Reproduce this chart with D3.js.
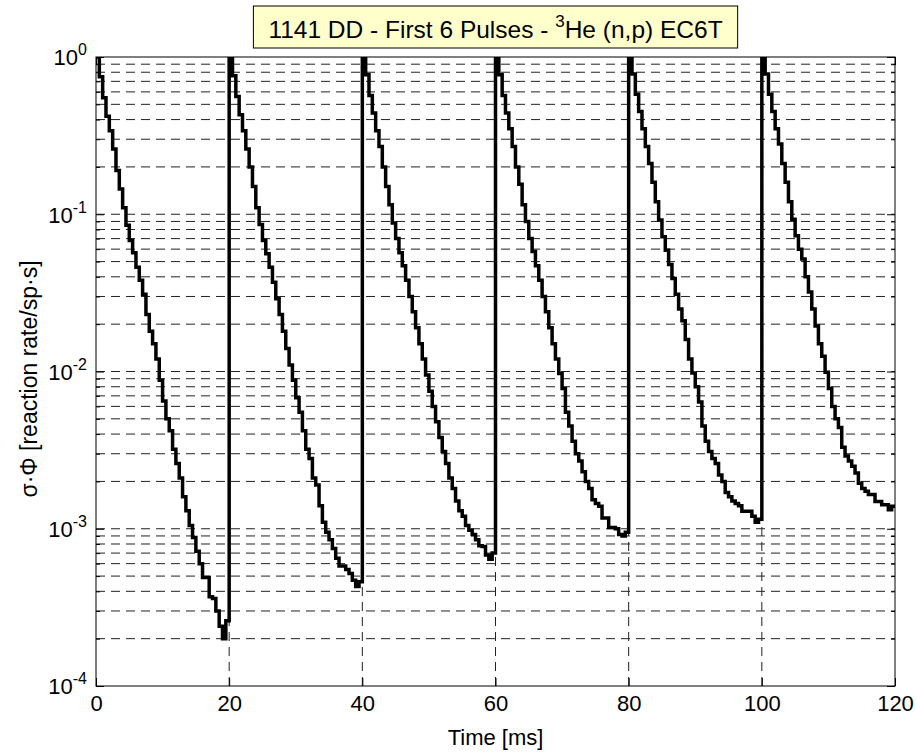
<!DOCTYPE html>
<html>
<head>
<meta charset="utf-8">
<script src="https://cdn.jsdelivr.net/npm/d3@7"></script>
<style>
body { margin: 0; background: #fff; }
svg { display: block; font-family: "Liberation Sans", Arial, sans-serif; }
</style>
</head>
<body>
<div id="chart"></div>
<script>
'use strict';

// pulse start times [ms] and the sampling step of each pulse record
var pulseStarts = [0, 20, 40, 60, 80, 100],
    sampleMs = 0.5,
    endMs = 120;

// sigma*Phi, one value every 0.5 ms after each pulse
var pulse1 = [1.0, 0.75, 0.55, 0.42, 0.34, 0.26, 0.19, 0.145, 0.11, 0.085,
              0.068, 0.057, 0.046, 0.038, 0.031, 0.023, 0.018, 0.015, 0.012, 0.0088,
              0.0065, 0.0050, 0.0042, 0.0032, 0.0026, 0.0021, 0.0016, 0.0013, 0.00105, 0.00088,
              0.00072, 0.00060, 0.00049, 0.00049, 0.00037, 0.00036, 0.00030, 0.00024, 0.00020, 0.00026];
var pulse2 = [1.0, 0.76, 0.56, 0.43, 0.34, 0.26, 0.20, 0.15, 0.11, 0.086,
              0.068, 0.056, 0.046, 0.037, 0.029, 0.023, 0.018, 0.014, 0.011, 0.0088,
              0.0068, 0.0055, 0.0042, 0.0032, 0.0028, 0.0021, 0.0019, 0.0014, 0.0011, 0.00095,
              0.00085, 0.00075, 0.00065, 0.00058, 0.00058, 0.00055, 0.00052, 0.00047, 0.00043, 0.00046];
var pulse3 = [1.0, 0.77, 0.57, 0.44, 0.34, 0.27, 0.20, 0.15, 0.115, 0.088,
              0.070, 0.057, 0.047, 0.038, 0.030, 0.024, 0.019, 0.015, 0.012, 0.0095,
              0.0075, 0.0060, 0.0048, 0.0038, 0.0031, 0.0026, 0.0021, 0.0018, 0.0015, 0.0013,
              0.0012, 0.00105, 0.00098, 0.00092, 0.00085, 0.00078, 0.00077, 0.00068, 0.00064, 0.00070];
var pulse4 = [1.0, 0.77, 0.57, 0.44, 0.35, 0.27, 0.20, 0.155, 0.115, 0.090,
              0.070, 0.058, 0.047, 0.038, 0.030, 0.024, 0.019, 0.015, 0.012, 0.0097,
              0.0078, 0.0055, 0.0045, 0.0036, 0.0030, 0.0027, 0.0023, 0.0020, 0.0018, 0.00153,
              0.00145, 0.00139, 0.00117, 0.00117, 0.00102, 0.00102, 0.00100, 0.00092, 0.00090, 0.00095];
var pulse5 = [1.0, 0.78, 0.58, 0.45, 0.35, 0.27, 0.21, 0.16, 0.12, 0.092,
              0.072, 0.059, 0.048, 0.039, 0.031, 0.025, 0.021, 0.016, 0.012, 0.0098,
              0.0080, 0.0064, 0.0045, 0.0036, 0.0031, 0.0028, 0.0026, 0.0022, 0.0020, 0.0017,
              0.0016, 0.0015, 0.00145, 0.0014, 0.00129, 0.00129, 0.00129, 0.0012, 0.0011, 0.00115];
var pulse6 = [1.0, 0.78, 0.58, 0.45, 0.35, 0.28, 0.21, 0.16, 0.12, 0.093,
              0.073, 0.060, 0.052, 0.040, 0.032, 0.025, 0.0195, 0.015, 0.0125, 0.0099,
              0.0078, 0.0060, 0.0050, 0.0044, 0.0033, 0.0029, 0.0027, 0.0025, 0.00226, 0.00195,
              0.0018, 0.00173, 0.00165, 0.00165, 0.00149, 0.00149, 0.00142, 0.00142, 0.00132, 0.00139];
var pulses = [pulse1, pulse2, pulse3, pulse4, pulse5, pulse6];

var xTicks = [0, 20, 40, 60, 80, 100, 120],
    yDecades = [1e-4, 1e-3, 1e-2, 1e-1, 1],
    yExponents = ['-4', '-3', '-2', '-1', '0'],
    minorMultipliers = [2, 3, 4, 5, 6, 7, 8, 9];

var titleStart = '1141 DD - First 6 Pulses - ',
    titleSup = '3',
    titleEnd = 'He (n,p) EC6T',
    xLabel = 'Time [ms]',
    yLabel = 'σ·Φ [reaction rate/sp·s]';

var width = 917,
    height = 753,
    plotLeft = 96,
    plotRight = 895,
    plotTop = 57,
    plotBottom = 686;

var svg = d3.select('#chart').append('svg').attr('width', width).attr('height', height);

var x = d3.scaleLinear().domain([0, endMs]).range([plotLeft, plotRight]),
    y = d3.scaleLog().domain([1e-4, 1]).range([plotBottom, plotTop]);

// minor values of the log axis
var yMinor = [];
yDecades.slice(0, -1).forEach(function (d) {
    minorMultipliers.forEach(function (m) {
        yMinor.push(m * d);
    });
});

// grid
var grid = svg.append('g').attr('fill', 'none').attr('stroke', '#222').attr('stroke-width', 1).attr('stroke-dasharray', '9,6');
grid.selectAll('.hgrid').data(yMinor.concat(yDecades.slice(1, -1))).enter().append('line').attr('class', 'hgrid')
    .attr('x1', plotLeft).attr('x2', plotRight)
    .attr('y1', function (d) { return y(d); })
    .attr('y2', function (d) { return y(d); });
grid.selectAll('.vgrid').data(xTicks.slice(1, -1)).enter().append('line').attr('class', 'vgrid')
    .attr('y1', plotBottom).attr('y2', plotTop)
    .attr('x1', function (d) { return x(d); })
    .attr('x2', function (d) { return x(d); });

// data points
var points = [];
pulses.forEach(function (p, k) {
    p.forEach(function (v, i) {
        points.push([pulseStarts[k] + i * sampleMs, v]);
    });
});
points.push([endMs, pulse6[pulse6.length - 1]]);

svg.append('clipPath').attr('id', 'plotClip').append('rect')
    .attr('x', plotLeft).attr('y', plotTop).attr('width', plotRight - plotLeft).attr('height', plotBottom - plotTop);

var line = d3.line().curve(d3.curveStepAfter)
    .x(function (d) { return x(d[0]); })
    .y(function (d) { return y(d[1]); });

svg.append('path').datum(points).attr('clip-path', 'url(#plotClip)')
    .attr('fill', 'none').attr('stroke', '#000').attr('stroke-width', 3.5).attr('stroke-linejoin', 'miter')
    .attr('d', line);

// axes
var axisFont = 22;

var xAxis = svg.append('g').attr('transform', 'translate(0,' + plotBottom + ')')
    .call(d3.axisBottom(x).tickValues(xTicks).tickSizeInner(-8).tickSizeOuter(0).tickPadding(9));
xAxis.selectAll('text').attr('font-size', axisFont).attr('font-family', null).attr('fill', '#000');

svg.append('g').attr('transform', 'translate(0,' + plotTop + ')')
    .call(d3.axisTop(x).tickValues(xTicks).tickSizeInner(-8).tickSizeOuter(0).tickFormat(''));

var yAxis = svg.append('g').attr('transform', 'translate(' + plotLeft + ',0)')
    .call(d3.axisLeft(y).tickValues(yDecades).tickSizeInner(-8).tickSizeOuter(0).tickPadding(9).tickFormat(''));
yAxis.selectAll('.tick text').each(function (d, i) {
    var t = d3.select(this).attr('font-size', axisFont).attr('font-family', null).attr('fill', '#000').attr('dy', '0.36em');
    t.append('tspan').text('10');
    t.append('tspan').attr('font-size', 16).attr('dy', -10).text(yExponents[i]);
});

svg.append('g').attr('transform', 'translate(' + plotLeft + ',0)')
    .call(d3.axisLeft(y).tickValues(yMinor).tickSizeInner(-4).tickSizeOuter(0).tickFormat(''));
svg.append('g').attr('transform', 'translate(' + plotRight + ',0)')
    .call(d3.axisRight(y).tickValues(yDecades).tickSizeInner(-8).tickSizeOuter(0).tickFormat(''));
svg.append('g').attr('transform', 'translate(' + plotRight + ',0)')
    .call(d3.axisRight(y).tickValues(yMinor).tickSizeInner(-4).tickSizeOuter(0).tickFormat(''));

svg.selectAll('.domain').remove();
svg.append('rect').attr('x', plotLeft).attr('y', plotTop).attr('width', plotRight - plotLeft).attr('height', plotBottom - plotTop)
    .attr('fill', 'none').attr('stroke', '#000').attr('stroke-width', 1);

// labels
svg.append('text').attr('x', (plotLeft + plotRight) / 2).attr('y', 745).attr('text-anchor', 'middle')
    .attr('font-size', 22).text(xLabel);

svg.append('text').attr('transform', 'translate(37,379) rotate(-90)').attr('text-anchor', 'middle')
    .attr('font-size', 23).text(yLabel);

// title box
var titleG = svg.append('g');
var titleRect = titleG.append('rect').attr('fill', '#ffffcc').attr('stroke', '#000').attr('stroke-width', 1);
var title = titleG.append('text').attr('x', (plotLeft + plotRight) / 2).attr('y', 38).attr('text-anchor', 'middle').attr('font-size', 24.5);
title.append('tspan').text(titleStart);
title.append('tspan').attr('font-size', 17).attr('dy', -11).text(titleSup);
title.append('tspan').attr('dy', 11).text(titleEnd);
var tb = title.node().getBBox();
titleRect.attr('x', tb.x - 15).attr('y', 6).attr('width', tb.width + 30).attr('height', 42);
</script>
</body>
</html>
